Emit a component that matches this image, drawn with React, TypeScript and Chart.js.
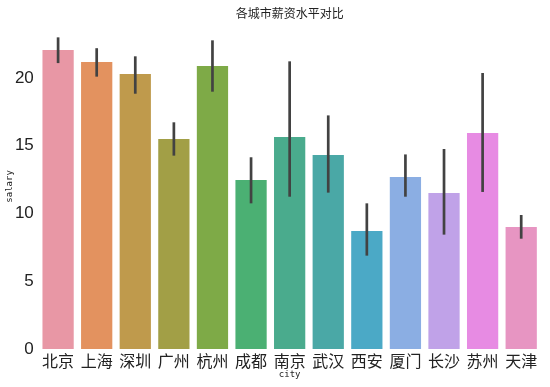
import React, { useEffect, useRef } from "react";
import { Chart, registerables } from "chart.js";

Chart.register(...registerables);

// 城市与平均薪资
const cities = ["北京", "上海", "深圳", "广州", "杭州", "成都", "南京", "武汉", "西安", "厦门", "长沙", "苏州", "天津"];
const salaryMean = [22.07, 21.18, 20.3, 15.5, 20.89, 12.47, 15.65, 14.32, 8.71, 12.69, 11.51, 15.94, 9.0];
// 置信区间上下限
const ciLow = [21.1, 20.1, 18.84, 14.27, 18.99, 10.75, 11.24, 11.54, 6.89, 11.24, 8.44, 11.59, 8.14];
const ciHigh = [23.0, 22.2, 21.6, 16.73, 22.78, 14.15, 21.23, 17.24, 10.75, 14.36, 14.76, 20.37, 9.89];
const yTicks = [0, 5, 10, 15, 20];

const barColors = [
  "#e897a5", "#e3925f", "#bf9a4c", "#a29f46", "#7eaa47", "#4bb073", "#4aab8d",
  "#4aa8a6", "#4ba9c6", "#8baee3", "#c0a2e8", "#e78be3", "#e795c2",
];

// 误差线插件
const errorBars = {
  id: "errorBars",
  afterDatasetsDraw(chart: any) {
    const { ctx, scales } = chart;
    const meta = chart.getDatasetMeta(0);
    ctx.save();
    ctx.strokeStyle = "#424242";
    ctx.lineWidth = 2.7;
    ctx.lineCap = "butt";
    meta.data.forEach((bar: any, i: number) => {
      const yLo = scales.y.getPixelForValue(ciLow[i]);
      const yHi = scales.y.getPixelForValue(ciHigh[i]);
      ctx.beginPath();
      ctx.moveTo(bar.x, yLo);
      ctx.lineTo(bar.x, yHi);
      ctx.stroke();
    });
    ctx.restore();
  },
};

export default function App() {
  const canvasRef = useRef<HTMLCanvasElement | null>(null);

  useEffect(() => {
    if (!canvasRef.current) return;
    const chart = new Chart(canvasRef.current, {
      type: "bar",
      data: {
        labels: cities,
        datasets: [
          {
            data: salaryMean,
            backgroundColor: barColors,
            borderWidth: 0,
            barPercentage: 0.81,
            categoryPercentage: 1.0,
          },
        ],
      },
      options: {
        animation: false,
        responsive: false,
        layout: { padding: { left: 0, right: 9.5, top: 0, bottom: 0 } },
        plugins: {
          legend: { display: false },
          tooltip: { enabled: false },
          title: {
            display: true,
            fullSize: false,
            text: "各城市薪资水平对比",
            color: "#222",
            font: { family: "'Noto Sans CJK SC', sans-serif", size: 12, weight: "normal" },
            padding: { top: 6, bottom: 3.4 },
          },
        },
        scales: {
          x: {
            grid: { display: false, drawTicks: false },
            border: { display: false },
            ticks: {
              color: "#222",
              padding: 2,
              font: { family: "'Noto Sans CJK SC', sans-serif", size: 16 },
            },
            title: {
              display: true,
              text: "city",
              color: "#222",
              padding: 6.5,
              font: { family: "'DejaVu Sans Mono', monospace", size: 9 },
            },
            afterFit(scale: any) {
              scale.height = 38;
            },
          },
          y: {
            min: 0,
            max: 24,
            grid: { display: false, drawTicks: false },
            border: { display: false },
            afterBuildTicks(axis: any) {
              axis.ticks = yTicks.map((v) => ({ value: v }));
            },
            ticks: {
              color: "#222",
              padding: 5,
              font: { family: "'Liberation Sans Narrow', 'Liberation Sans', sans-serif", size: 17 },
            },
            title: {
              display: true,
              text: "salary",
              color: "#222",
              padding: 4.6,
              font: { family: "'DejaVu Sans Mono', monospace", size: 9 },
            },
            afterFit(scale: any) {
              scale.width = 38.8;
            },
          },
        },
      },
      plugins: [errorBars],
    });
    return () => chart.destroy();
  }, []);

  return (
    <div style={{ position: "fixed", left: 0, top: 0, width: 550, height: 387, background: "#fff" }}>
      <canvas ref={canvasRef} width={550} height={387} />
    </div>
  );
}
